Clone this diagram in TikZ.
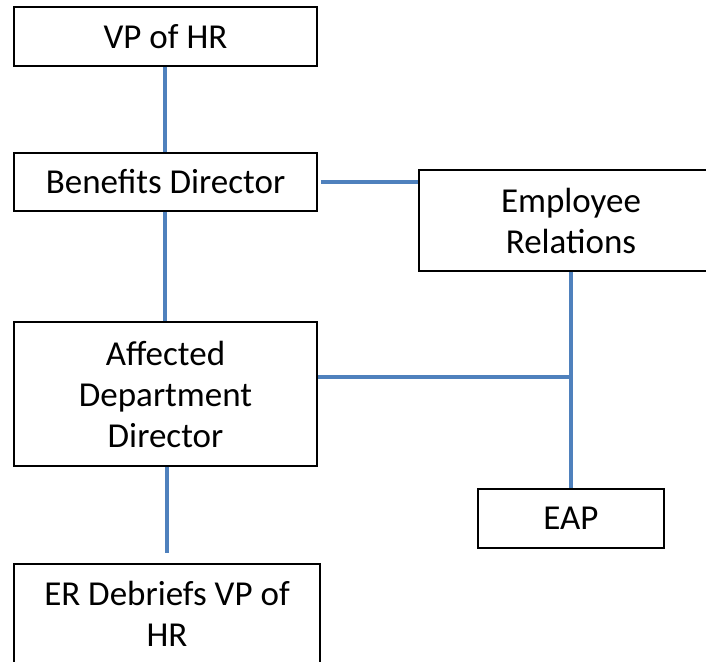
\documentclass[tikz,border=0pt]{standalone}
\usepackage{fontspec}
\setmainfont{Carlito}
\definecolor{linkblue}{HTML}{4F81BD}
\tikzset{
  box/.style={draw=black, line width=1.5pt, fill=white, inner sep=0pt, align=center,
    font=\fontsize{35}{41}\selectfont},
  link/.style={draw=linkblue, line width=4.5pt}
}
\begin{document}
\begin{tikzpicture}[x=1pt,y=-1pt]
\useasboundingbox (0,0) rectangle (706,661);
\begin{scope}
\clip (0,0) rectangle (706,661);
\node[box, minimum width=303pt, minimum height=59pt] (vp) at (165.5,36.5) {VP of HR};
\node[box, minimum width=303pt, minimum height=58pt] (ben) at (165.5,182) {Benefits Director};
\node[box, minimum width=304pt, minimum height=101pt] (er) at (571,220.5) {Employee\\Relations};
\node[box, minimum width=303pt, minimum height=144pt] (aff) at (165.5,394) {Affected\\Department\\Director};
\node[box, minimum width=186pt, minimum height=59pt] (eap) at (571,518.5) {EAP};
\node[box, minimum width=306pt, minimum height=99pt] (deb) at (167,613.5) {ER Debriefs VP of\\HR};
\coordinate (j) at (571,377);
\coordinate (dend) at (167,553);
\draw[link] (vp.south -| 165,0) -- (ben.north -| 165,0);
\draw[link] (ben.east |- 0,182) ++(3,0) -- (er.west |- 0,182);
\draw[link] (ben.south -| 165,0) -- (aff.north -| 165,0);
\draw[link] (er.south) -- (eap.north);
\draw[link] (aff.east |- j) -- (j);
\draw[link] (aff.south -| dend) -- (dend);
\end{scope}
\end{tikzpicture}
\end{document}
